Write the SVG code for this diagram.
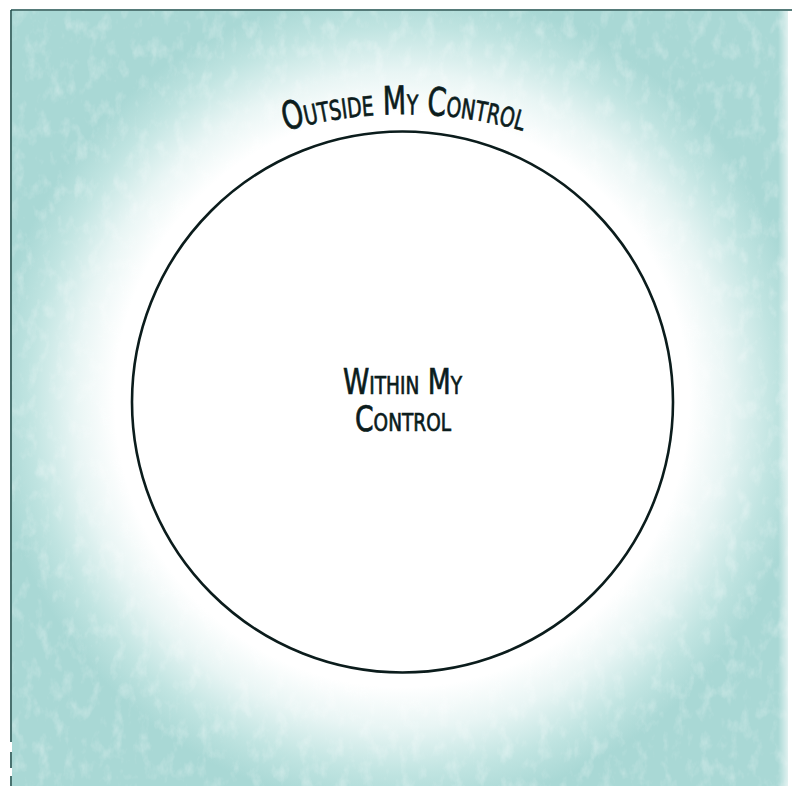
<svg xmlns="http://www.w3.org/2000/svg" width="792" height="790" viewBox="0 0 792 790">
  <style>
    .lbl { font-family: "Liberation Sans Narrow", "DejaVu Sans Condensed", "Liberation Sans", sans-serif; font-variant: small-caps; fill: #0b1c1c; stroke: #0b1c1c; stroke-width: 0.7; font-weight: normal; }
    .ring { fill: none; stroke: #0b1c1c; stroke-width: 2.6; }
    .edge { stroke: #1d4f4c; stroke-width: 1.6; fill: none; }
  </style>
  <defs>
    <radialGradient id="glow" gradientUnits="userSpaceOnUse" cx="402" cy="400" r="410">
      <stop offset="0" stop-color="#ffffff"/>
      <stop offset="0.7" stop-color="#ffffff"/>
      <stop offset="0.8" stop-color="#e8f5f4"/>
      <stop offset="0.91" stop-color="#c0e4e1"/>
      <stop offset="1" stop-color="#a9d8d5"/>
    </radialGradient>
    <filter id="grain" x="0" y="0" width="100%" height="100%">
      <feTurbulence type="fractalNoise" baseFrequency="0.08 0.05" numOctaves="4" seed="7" result="n"/>
      <feColorMatrix in="n" type="matrix" values="0 0 0 0 1  0 0 0 0 1  0 0 0 0 1  0 0 0 1.8 -0.9"/>
    </filter>
    <linearGradient id="fadeR" x1="0" x2="1" y1="0" y2="0">
      <stop offset="0" stop-color="#ffffff" stop-opacity="0"/>
      <stop offset="1" stop-color="#ffffff" stop-opacity="0.9"/>
    </linearGradient>
    <path id="arcTop" d="M 127 215 A 431 431 0 0 1 681 215"/>
  </defs>

  <rect x="0" y="0" width="792" height="790" fill="#ffffff"/>
  <g id="background">
    <rect x="12" y="11" width="776" height="775" fill="url(#glow)"/>
    <rect x="12" y="11" width="776" height="775" fill="#ffffff" filter="url(#grain)" opacity="0.4"/>
    <rect x="778" y="11" width="14" height="775" fill="url(#fadeR)"/>
    <path class="edge" d="M 11 10 L 792 10"/>
    <path class="edge" d="M 11 10 L 11 742 M 11 752 L 11 768 M 11 776 L 11 786"/>
  </g>

  <g id="outside-node">
    <text class="lbl" font-size="39">
      <textPath href="#arcTop" startOffset="50%" text-anchor="middle" textLength="240" lengthAdjust="spacingAndGlyphs">Outside My Control</textPath>
    </text>
  </g>

  <g id="within-node">
    <circle class="ring" cx="402.5" cy="402" r="270.5"/>
    <text class="lbl" font-size="36" x="402.5" y="394" text-anchor="middle" textLength="119" lengthAdjust="spacingAndGlyphs">Within My</text>
    <text class="lbl" font-size="36" x="403" y="431" text-anchor="middle" textLength="96" lengthAdjust="spacingAndGlyphs">Control</text>
  </g>

  <g id="connectors"></g>
</svg>
